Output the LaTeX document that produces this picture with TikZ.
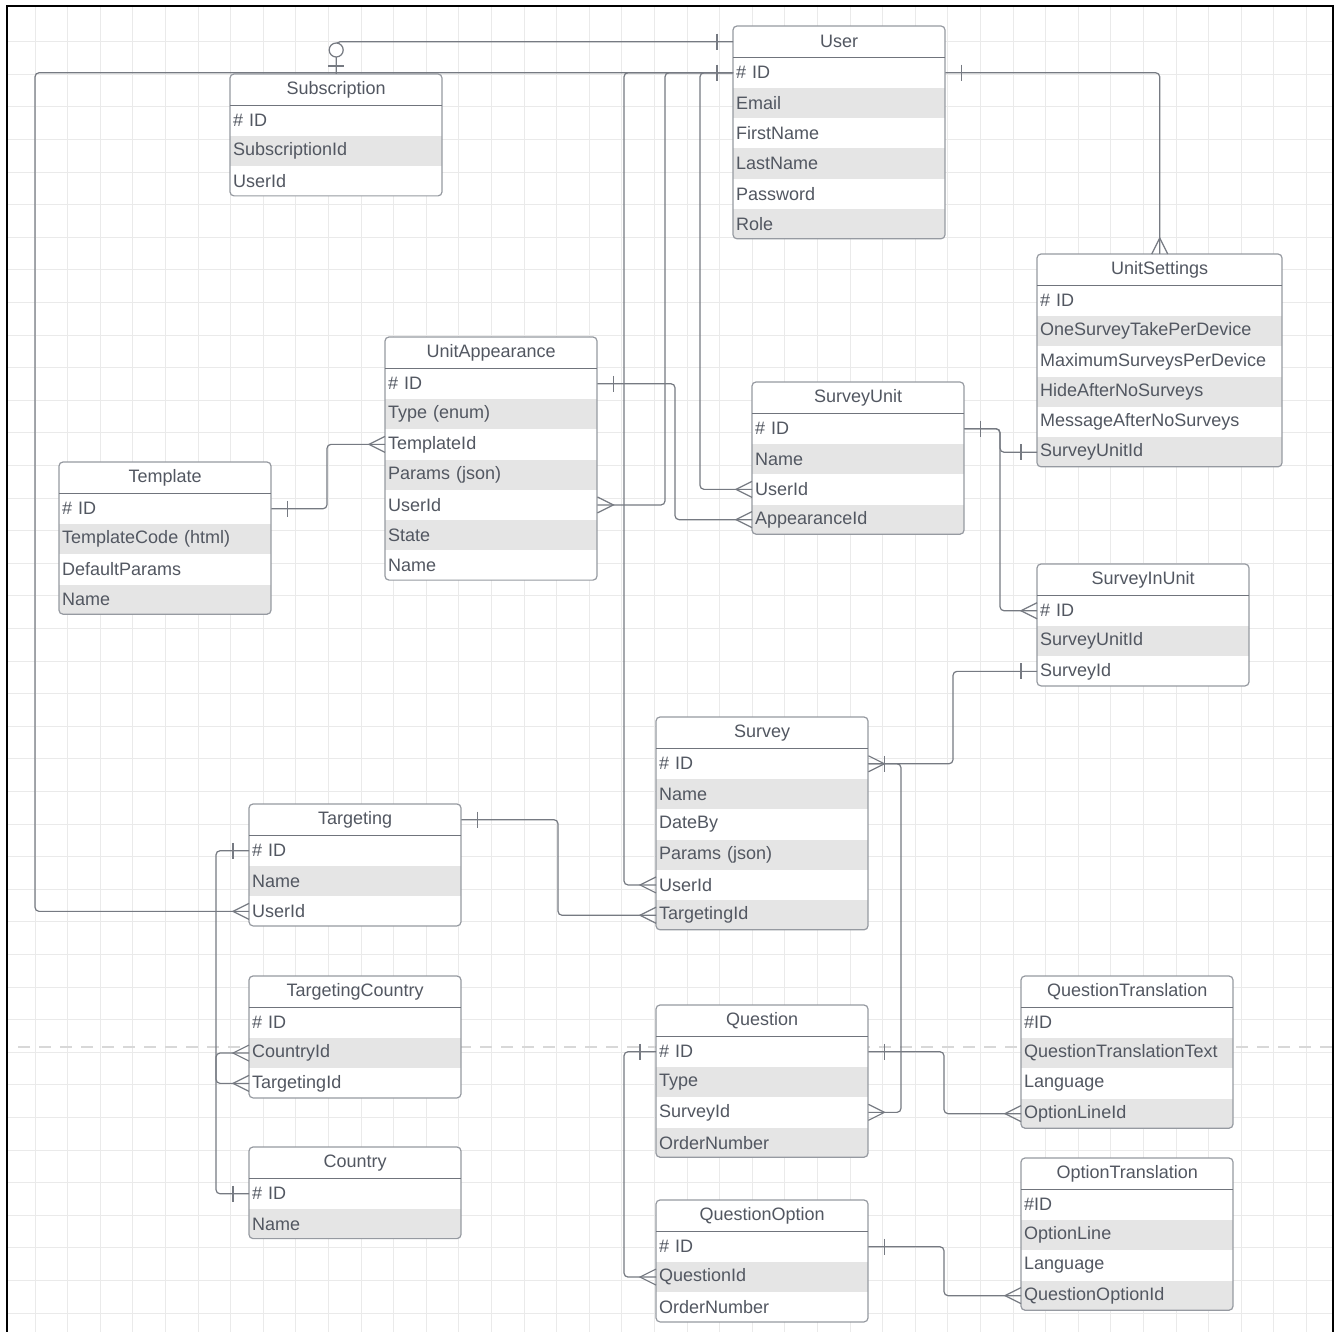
\documentclass[tikz,border=0pt]{standalone}
\usepackage{fontspec}
\setmainfont{Liberation Sans}
\usetikzlibrary{calc}
\definecolor{ertext}{RGB}{82,87,97}
\definecolor{erframe}{RGB}{150,154,161}
\definecolor{ersep}{RGB}{112,116,124}
\definecolor{errow}{RGB}{229,229,229}
\definecolor{linegrey}{RGB}{118,122,130}
\definecolor{gridgrey}{RGB}{234,234,234}
\definecolor{pagebreak}{RGB}{216,216,216}

\tikzset{
  tabhead/.style={fill=white, text=ertext, inner sep=0pt, minimum height=31pt, font=\fontsize{18}{20}\selectfont},
  tabrow/.style={text=ertext, inner xsep=3pt, inner ysep=0pt, minimum height=30.3pt, align=left, font=\fontsize{18}{20}\selectfont},
  tabframe/.style={draw=erframe, line width=1.2pt, rounded corners=4pt},
  tabsep/.style={draw=ersep, line width=1.4pt},
  erline/.style={draw=linegrey, line width=1.2pt, rounded corners=4pt},
  ermark/.style={draw=linegrey, line width=1.2pt},
  gridline/.style={draw=gridgrey, line width=1pt},
}

% #1 name, #2 top left, #3 width, #4 title, #5 number of rows, #6 rows
\newcommand{\ertable}[6]{%
  \begin{scope}
    \clip[rounded corners=4pt] (#2) rectangle ++(#3,{31+#5*30.3});
    \node[tabhead, minimum width=#3pt, anchor=north west] (#1) at (#2) {#4};
    \foreach \rowtxt [count=\rowno] in {#6} {
      \ifodd\rowno \def\rowfill{white}\else \def\rowfill{errow}\fi
      \node[tabrow, fill=\rowfill, text width={#3pt-6pt}, anchor=north west]
        (#1-\rowno) at ($(#1.south west)+(0,{(\rowno-1)*30.3})$) {\rowtxt};
    }
  \end{scope}
  \draw[tabframe] (#2) rectangle ++(#3,{31+#5*30.3});
  \draw[tabsep] (#1.south west) -- (#1.south east);
}

% ends of the relations
\newcommand{\barW}[1]{\draw[ermark] ($(#1)+(-16,-8)$) -- ($(#1)+(-16,8)$);}
\newcommand{\barE}[1]{\draw[ermark] ($(#1)+(16,-8)$) -- ($(#1)+(16,8)$);}
\newcommand{\crowW}[1]{\draw[ermark] ($(#1)+(0,-8)$) -- ($(#1)+(-16,0)$) -- ($(#1)+(0,8)$);}
\newcommand{\crowE}[1]{\draw[ermark] ($(#1)+(0,-8)$) -- ($(#1)+(16,0)$) -- ($(#1)+(0,8)$);}
\newcommand{\crowN}[1]{\draw[ermark] ($(#1)+(-8,0)$) -- ($(#1)+(0,-16)$) -- ($(#1)+(8,0)$);}
\newcommand{\zeroN}[1]{\draw[ermark] ($(#1)+(-8,-8)$) -- ($(#1)+(8,-8)$);
  \draw[ermark, fill=white] ($(#1)+(0,-24)$) circle (7pt);}

\begin{document}
\begin{tikzpicture}[x=1pt, y=-1pt]
  \useasboundingbox (0,0) rectangle (1341,1332);
  \fill[white] (0,0) rectangle (1341,1332);

  % grid and page break
  \foreach \k in {0,...,39} {
    \draw[gridline] ({35+32.6*\k},7) -- ({35+32.6*\k},1332);
    \draw[gridline] (7,{41.7+32.6*\k}) -- (1332,{41.7+32.6*\k});
  }
  \draw[pagebreak, line width=2.5pt, dash pattern=on 12pt off 9pt] (18,1047) -- (1333,1047);
  \draw[black, line width=2pt] (6.5,1332) -- (6.5,6) -- (1332.5,6) -- (1332.5,1332);

  % tables
  \ertable{sub}{230,74}{212}{Subscription}{3}{\# ID, SubscriptionId, UserId}
  \ertable{user}{733,26}{212}{User}{6}{\# ID, Email, FirstName, LastName, Password, Role}
  \ertable{uset}{1037,254}{245}{UnitSettings}{6}{\# ID, OneSurveyTakePerDevice, MaximumSurveysPerDevice, HideAfterNoSurveys, MessageAfterNoSurveys, SurveyUnitId}
  \ertable{uapp}{385,337}{212}{UnitAppearance}{7}{\# ID, Type (enum), TemplateId, Params (json), UserId, State, Name}
  \ertable{sunit}{752,382}{212}{SurveyUnit}{4}{\# ID, Name, UserId, AppearanceId}
  \ertable{tpl}{59,462}{212}{Template}{4}{\# ID, TemplateCode (html), DefaultParams, Name}
  \ertable{siu}{1037,564}{212}{SurveyInUnit}{3}{\# ID, SurveyUnitId, SurveyId}
  \ertable{srv}{656,717}{212}{Survey}{6}{\# ID, Name, DateBy, Params (json), UserId, TargetingId}
  \ertable{targ}{249,804}{212}{Targeting}{3}{\# ID, Name, UserId}
  \ertable{tcty}{249,976}{212}{TargetingCountry}{3}{\# ID, CountryId, TargetingId}
  \ertable{ctry}{249,1147}{212}{Country}{2}{\# ID, Name}
  \ertable{qst}{656,1005}{212}{Question}{4}{\# ID, Type, SurveyId, OrderNumber}
  \ertable{qopt}{656,1200}{212}{QuestionOption}{3}{\# ID, QuestionId, OrderNumber}
  \ertable{qtr}{1021,976}{212}{QuestionTranslation}{4}{\#ID, QuestionTranslationText, Language, OptionLineId}
  \ertable{otr}{1021,1158}{212}{OptionTranslation}{4}{\#ID, OptionLine, Language, QuestionOptionId}

  % routing columns
  \coordinate (busTarg) at (35,0);
  \coordinate (busSrv) at (624,0);
  \coordinate (busUapp) at (665,0);
  \coordinate (busSunit) at (700,0);
  \coordinate (busApp) at (675,0);
  \coordinate (busTpl) at (327,0);
  \coordinate (busSu) at (1000,0);
  \coordinate (busSiu) at (953,0);
  \coordinate (busQst) at (901,0);
  \coordinate (busTsrv) at (558,0);
  \coordinate (busCty) at (216,0);
  \coordinate (busQopt) at (624,0);
  \coordinate (busTr) at (944,0);

  % relations
  \draw[erline] (sub.north) -- (sub.north |- user.west) -- (user.west);
  \draw[erline] (user-1.west) -- (user-1.west -| busTarg) -- (targ-3.west -| busTarg) -- (targ-3.west);
  \draw[erline] (user-1.west) -- (user-1.west -| busSrv) -- (srv-5.west -| busSrv) -- (srv-5.west);
  \draw[erline] (user-1.west) -- (user-1.west -| busUapp) -- (uapp-5.east -| busUapp) -- (uapp-5.east);
  \draw[erline] (user-1.west) -- (user-1.west -| busSunit) -- (sunit-3.west -| busSunit) -- (sunit-3.west);
  \draw[erline] (user-1.east) -| (uset.north);
  \draw[erline] (uapp-1.east) -- (uapp-1.east -| busApp) -- (sunit-4.west -| busApp) -- (sunit-4.west);
  \draw[erline] (tpl-1.east) -- (tpl-1.east -| busTpl) -- (uapp-3.west -| busTpl) -- (uapp-3.west);
  \draw[erline] (sunit-1.east) -- (sunit-1.east -| busSu) -- (uset-6.west -| busSu) -- (uset-6.west);
  \draw[erline] (sunit-1.east) -- (sunit-1.east -| busSu) -- (siu-1.west -| busSu) -- (siu-1.west);
  \draw[erline] (siu-3.west) -- (siu-3.west -| busSiu) -- (srv-1.east -| busSiu) -- (srv-1.east);
  \draw[erline] (srv-1.east) -- (srv-1.east -| busQst) -- (qst-3.east -| busQst) -- (qst-3.east);
  \draw[erline] (targ.east) -- (targ.east -| busTsrv) -- (srv-6.west -| busTsrv) -- (srv-6.west);
  \draw[erline] (targ-1.west) -- (targ-1.west -| busCty) -- (tcty-3.west -| busCty) -- (tcty-3.west);
  \draw[erline] (ctry-1.west) -- (ctry-1.west -| busCty) -- (tcty-2.west -| busCty) -- (tcty-2.west);
  \draw[erline] (qst-1.west) -- (qst-1.west -| busQopt) -- (qopt-2.west -| busQopt) -- (qopt-2.west);
  \draw[erline] (qst-1.east) -- (qst-1.east -| busTr) -- (qtr-4.west -| busTr) -- (qtr-4.west);
  \draw[erline] (qopt-1.east) -- (qopt-1.east -| busTr) -- (otr-4.west -| busTr) -- (otr-4.west);

  % relation ends
  \zeroN{sub.north}
  \barW{user.west}
  \barW{user-1.west}
  \crowW{targ-3.west}
  \crowW{srv-5.west}
  \crowE{uapp-5.east}
  \crowW{sunit-3.west}
  \barE{user-1.east}
  \crowN{uset.north}
  \barE{uapp-1.east}
  \crowW{sunit-4.west}
  \barE{tpl-1.east}
  \crowW{uapp-3.west}
  \barE{sunit-1.east}
  \barW{uset-6.west}
  \crowW{siu-1.west}
  \barW{siu-3.west}
  \crowE{srv-1.east}
  \barE{srv-1.east}
  \crowE{qst-3.east}
  \barE{targ.east}
  \crowW{srv-6.west}
  \barW{targ-1.west}
  \crowW{tcty-3.west}
  \barW{ctry-1.west}
  \crowW{tcty-2.west}
  \barW{qst-1.west}
  \crowW{qopt-2.west}
  \barE{qst-1.east}
  \crowW{qtr-4.west}
  \barE{qopt-1.east}
  \crowW{otr-4.west}
\end{tikzpicture}
\end{document}
